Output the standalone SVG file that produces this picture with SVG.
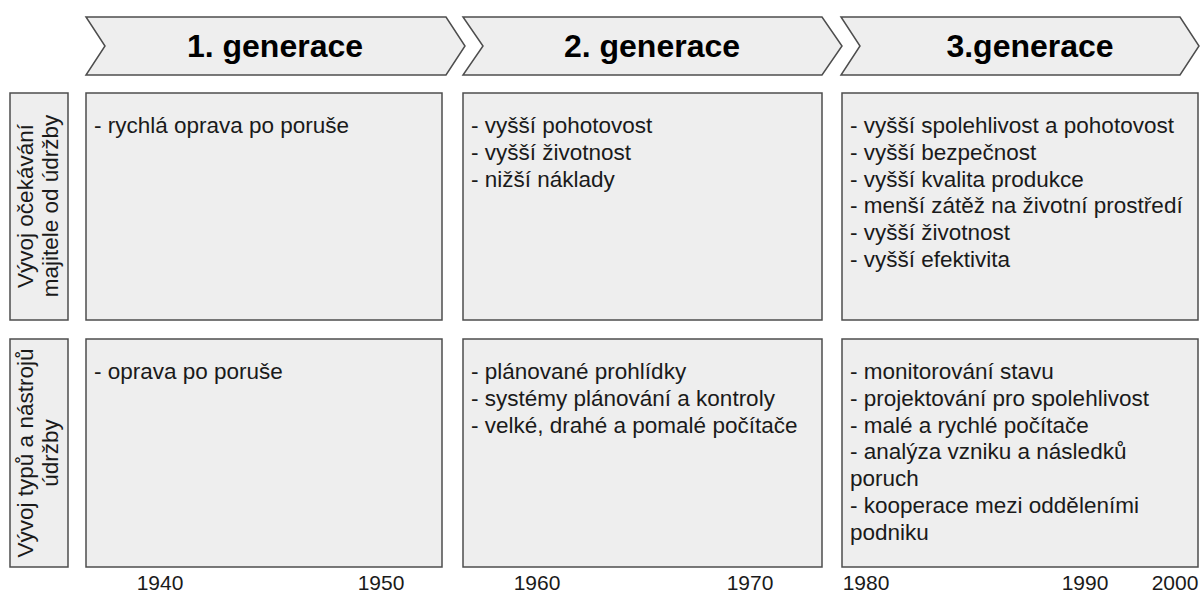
<svg xmlns="http://www.w3.org/2000/svg" width="1200" height="602" viewBox="0 0 1200 602">
<style>
.box{fill:#eeeeee;stroke:#4d4d4d;stroke-width:1.5}
.t{font-family:"Liberation Sans",Arial,sans-serif;font-size:22.5px;fill:#1a1a1a}
.h{font-family:"Liberation Sans",Arial,sans-serif;font-size:32px;font-weight:bold;fill:#000;text-anchor:middle}
.y{font-family:"Liberation Sans",Arial,sans-serif;font-size:21px;fill:#1a1a1a;text-anchor:middle}
.v{text-anchor:middle}
</style>
<rect width="1200" height="602" fill="#ffffff"/>
<g id="gen1"><polygon class="box" points="86,17 446,17 465,46 446,75 86,75 105,46"/><text class="h" x="275" y="57">1. generace</text></g>
<g id="gen2"><polygon class="box" points="463,17 822,17 842,46 822,75 463,75 483,46"/><text class="h" x="652" y="57">2. generace</text></g>
<g id="gen3"><polygon class="box" points="841,17 1180,17 1199,46 1180,75 841,75 860,46"/><text class="h" x="1030" y="57">3.generace</text></g>

<g id="label1"><rect class="box" x="10" y="93" width="58" height="227"/>
<text class="t v" transform="translate(0,206) rotate(-90)"><tspan x="0" y="33">Vývoj očekávání</tspan><tspan x="0" y="58">majitele od údržby</tspan></text></g>
<g id="label2"><rect class="box" x="10" y="339" width="58" height="228"/>
<text class="t v" transform="translate(0,453) rotate(-90)"><tspan x="0" y="33">Vývoj typů a nástrojů</tspan><tspan x="0" y="58">údržby</tspan></text></g>

<g id="r1c1"><rect class="box" x="86" y="93" width="356" height="227"/>
<text class="t"><tspan x="94" y="133">- rychlá oprava po poruše</tspan></text></g>
<g id="r1c2"><rect class="box" x="463" y="93" width="359" height="227"/>
<text class="t"><tspan x="471" y="133">- vyšší pohotovost</tspan><tspan x="471" y="160">- vyšší životnost</tspan><tspan x="471" y="187">- nižší náklady</tspan></text></g>
<g id="r1c3"><rect class="box" x="842" y="93" width="356" height="227"/>
<text class="t"><tspan x="850" y="133">- vyšší spolehlivost a pohotovost</tspan><tspan x="850" y="160">- vyšší bezpečnost</tspan><tspan x="850" y="187">- vyšší kvalita produkce</tspan><tspan x="850" y="213">- menší zátěž na životní prostředí</tspan><tspan x="850" y="240">- vyšší životnost</tspan><tspan x="850" y="267">- vyšší efektivita</tspan></text></g>

<g id="r2c1"><rect class="box" x="86" y="339" width="356" height="228"/>
<text class="t"><tspan x="94" y="379">- oprava po poruše</tspan></text></g>
<g id="r2c2"><rect class="box" x="463" y="339" width="359" height="228"/>
<text class="t"><tspan x="471" y="379">- plánované prohlídky</tspan><tspan x="471" y="406">- systémy plánování a kontroly</tspan><tspan x="471" y="433">- velké, drahé a pomalé počítače</tspan></text></g>
<g id="r2c3"><rect class="box" x="842" y="339" width="356" height="228"/>
<text class="t"><tspan x="850" y="379">- monitorování stavu</tspan><tspan x="850" y="406">- projektování pro spolehlivost</tspan><tspan x="850" y="433">- malé a rychlé počítače</tspan><tspan x="850" y="459">- analýza vzniku a následků</tspan><tspan x="850" y="486">poruch</tspan><tspan x="850" y="513">- kooperace mezi odděleními</tspan><tspan x="850" y="540">podniku</tspan></text></g>

<g id="years">
<text class="y" x="160" y="590">1940</text>
<text class="y" x="381" y="590">1950</text>
<text class="y" x="537" y="590">1960</text>
<text class="y" x="750" y="590">1970</text>
<text class="y" x="866" y="590">1980</text>
<text class="y" x="1085" y="590">1990</text>
<text class="y" x="1175" y="590">2000</text>
</g>
<g id="connectors"></g>
</svg>
